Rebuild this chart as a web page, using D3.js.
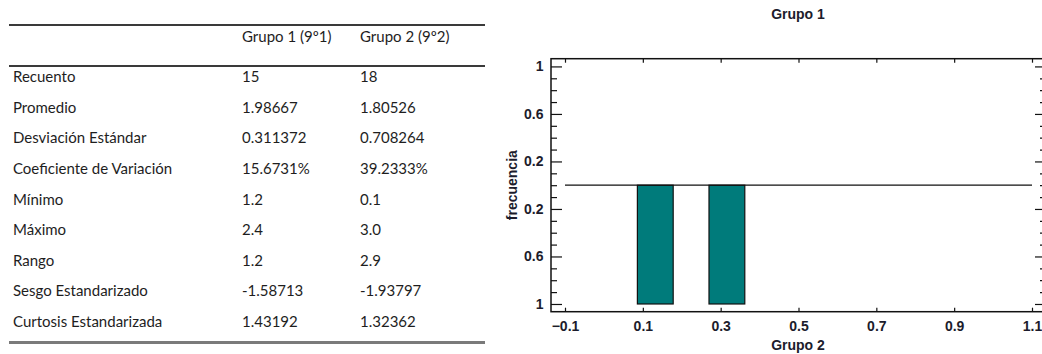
<!DOCTYPE html>
<html>
<head>
<meta charset="utf-8">
<script src="https://cdn.jsdelivr.net/npm/d3@7"></script>
<style>
  body { margin: 0; background: #fff; }
  svg { display: block; }
  .cell { font-family: Lato, 'Open Sans', sans-serif; font-size: 15px; fill: #1e1e1e; }
  .tick text, .chart-label { font-family: 'Liberation Sans', Arial, sans-serif; font-weight: bold; fill: #1c1c2c; }
</style>
</head>
<body>
<div id="chart"></div>
<script>
// table contents
const columnHeaders = ['Grupo 1 (9º1)', 'Grupo 2 (9º2)'];
const rowLabels = ['Recuento', 'Promedio', 'Desviación Estándar', 'Coeficiente de Variación',
  'Mínimo', 'Máximo', 'Rango', 'Sesgo Estandarizado', 'Curtosis Estandarizada'];
const grupo1Stats = ['15', '1.98667', '0.311372', '15.6731%', '1.2', '2.4', '1.2', '-1.58713', '1.43192'];
const grupo2Stats = ['18', '1.80526', '0.708264', '39.2333%', '0.1', '3.0', '2.9', '-1.93797', '1.32362'];

// mirrored histogram (Grupo 1 up, Grupo 2 down), only bins inside the visible x range
const grupo1Bins = [];
const grupo2Bins = [
  { x0: 0.086, x1: 0.178, freq: 1 },
  { x0: 0.270, x1: 0.362, freq: 1 }
];
const xTickValues = [-0.1, 0.1, 0.3, 0.5, 0.7, 0.9, 1.1];
const yTickValues = [1, 0.6, 0.2, -0.2, -0.6, -1];

const W = 1042, H = 354;
const svg = d3.select('#chart').append('svg')
  .attr('width', W).attr('height', H);

// ---- table ----
const table = svg.append('g').attr('class', 'table');
const colX = [242, 360];
const rowY = d3.scalePoint().domain(rowLabels).range([82, 327]);

table.append('line').attr('x1', 9).attr('x2', 485).attr('y1', 25).attr('y2', 25)
  .attr('stroke', '#3a3a3a').attr('stroke-width', 2);
table.append('line').attr('x1', 9).attr('x2', 485).attr('y1', 66).attr('y2', 66)
  .attr('stroke', '#3a3a3a').attr('stroke-width', 2);
table.append('line').attr('x1', 9).attr('x2', 485).attr('y1', 342.5).attr('y2', 342.5)
  .attr('stroke', '#7a7a7a').attr('stroke-width', 3);

table.selectAll('.head').data(columnHeaders).enter().append('text')
  .attr('class', 'cell head')
  .attr('x', (d, i) => colX[i]).attr('y', 42)
  .text(d => d);

table.selectAll('.rowlabel').data(rowLabels).enter().append('text')
  .attr('class', 'cell rowlabel')
  .attr('x', 13).attr('y', d => rowY(d))
  .text(d => d);

[grupo1Stats, grupo2Stats].forEach((col, ci) => {
  table.selectAll('.col' + ci).data(col).enter().append('text')
    .attr('class', 'cell col' + ci)
    .attr('x', colX[ci]).attr('y', (d, i) => rowY(rowLabels[i]))
    .text(d => d);
});

// ---- histogram ----
const frame = { left: 551, right: 1046, top: 58.7, bottom: 311.7 };

const x = d3.scaleLinear().domain([-0.1, 1.1]).range([565, 1032]);
const y = d3.scaleLinear().domain([-1.065, 1.065]).range([frame.bottom, frame.top]);

const absFmt = d => d3.format('~g')(Math.abs(d));
const minorY = d3.range(-10, 11).map(i => i / 10)
  .filter(v => !yTickValues.some(t => Math.abs(t - v) < 1e-9));

const plot = svg.append('g').attr('class', 'plot');

// left axis, major + minor
plot.append('g').attr('transform', `translate(${frame.left},0)`)
  .call(d3.axisLeft(y).tickValues(yTickValues).tickSize(-11).tickPadding(7.5).tickFormat(absFmt))
  .call(g => g.select('.domain').remove())
  .call(g => g.selectAll('text').style('font-size', '14px'));
plot.append('g').attr('transform', `translate(${frame.left},0)`)
  .call(d3.axisLeft(y).tickValues(minorY).tickSize(-6).tickFormat(''))
  .call(g => g.select('.domain').remove());

// right axis, ticks only
plot.append('g').attr('transform', `translate(${frame.right},0)`)
  .call(d3.axisRight(y).tickValues(yTickValues).tickSize(-11).tickFormat(''))
  .call(g => g.select('.domain').remove());
plot.append('g').attr('transform', `translate(${frame.right},0)`)
  .call(d3.axisRight(y).tickValues(minorY).tickSize(-6).tickFormat(''))
  .call(g => g.select('.domain').remove());

// bottom and top x axes
plot.append('g').attr('transform', `translate(0,${frame.bottom})`)
  .call(d3.axisBottom(x).tickValues(xTickValues).tickSize(-4).tickPadding(9).tickFormat(d3.format('.1f')))
  .call(g => g.select('.domain').remove())
  .call(g => g.selectAll('text').style('font-size', '14px'));
plot.append('g').attr('transform', `translate(0,${frame.top})`)
  .call(d3.axisTop(x).tickValues(xTickValues).tickSize(-4).tickFormat(''))
  .call(g => g.select('.domain').remove());

plot.selectAll('.tick line').attr('stroke', '#111').attr('stroke-width', 1.2);

// frame
plot.append('rect')
  .attr('x', frame.left).attr('y', frame.top)
  .attr('width', frame.right - frame.left).attr('height', frame.bottom - frame.top)
  .attr('fill', 'none').attr('stroke', '#111').attr('stroke-width', 1.5);

// bars
plot.selectAll('.bar1').data(grupo1Bins).enter().append('rect')
  .attr('class', 'bar1')
  .attr('x', d => x(d.x0)).attr('width', d => x(d.x1) - x(d.x0))
  .attr('y', d => y(d.freq)).attr('height', d => y(0) - y(d.freq))
  .attr('fill', '#007b7b').attr('stroke', '#111');
plot.selectAll('.bar2').data(grupo2Bins).enter().append('rect')
  .attr('class', 'bar2')
  .attr('x', d => x(d.x0)).attr('width', d => x(d.x1) - x(d.x0))
  .attr('y', y(0)).attr('height', d => y(-d.freq) - y(0))
  .attr('fill', '#007b7b').attr('stroke', '#111').attr('stroke-width', 1.2);

// baseline between the two groups
plot.append('line')
  .attr('x1', x(-0.1)).attr('x2', x(1.1))
  .attr('y1', y(0)).attr('y2', y(0))
  .attr('stroke', '#111').attr('stroke-width', 1.2);

// labels
plot.append('text').attr('class', 'chart-label')
  .attr('x', 798).attr('y', 19).attr('text-anchor', 'middle')
  .style('font-size', '14px').text('Grupo 1');
plot.append('text').attr('class', 'chart-label')
  .attr('x', 798).attr('y', 349.5).attr('text-anchor', 'middle')
  .style('font-size', '14px').text('Grupo 2');
plot.append('text').attr('class', 'chart-label')
  .attr('transform', `translate(517,${y(0)}) rotate(-90)`)
  .attr('text-anchor', 'middle')
  .style('font-size', '14px').text('frecuencia');
</script>
</body>
</html>
